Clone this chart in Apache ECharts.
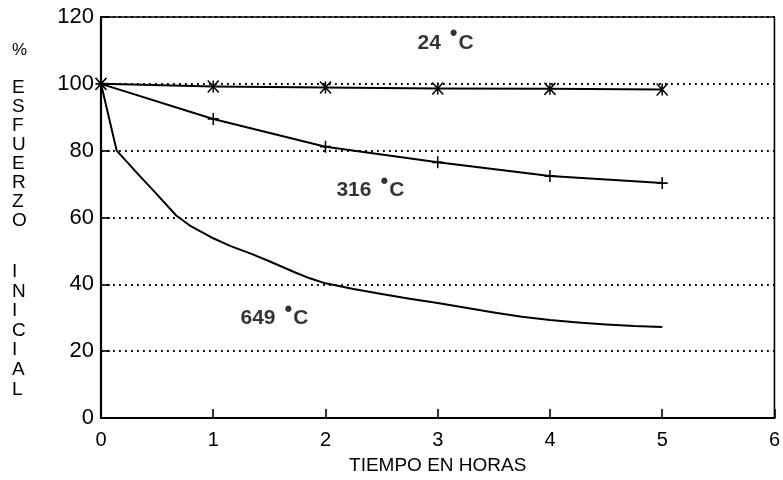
<!DOCTYPE html>
<html>
<head>
<meta charset="utf-8">
<script src="https://cdn.jsdelivr.net/npm/echarts@6/dist/echarts.min.js"></script>
<style>
  html, body { margin: 0; padding: 0; background: #fff; }
  #chart { width: 783px; height: 480px; }
</style>
</head>
<body>
<div id="chart"></div>
<script>
// Retención del esfuerzo inicial (%) frente al tiempo a distintas temperaturas
const xTicks = [0, 1, 2, 3, 4, 5, 6];
const yTicks = [0, 20, 40, 60, 80, 100, 120];

const serie24 = [[0, 100], [1, 99.2], [2, 98.9], [3, 98.6], [4, 98.5], [5, 98.3]];
const serie316 = [[0, 100], [1, 89.5], [2, 81.2], [3, 76.5], [4, 72.4], [5, 70.3]];
const serie649 = [
  [0, 100], [0.14, 80], [0.33, 73.0], [0.48, 67.6], [0.67, 60.6], [0.8, 57.4],
  [0.98, 54.1], [1.15, 51.5], [1.34, 49.1], [1.5, 46.9], [1.72, 43.7], [1.86, 41.8],
  [2, 40.3], [2.25, 38.6], [2.5, 37.1], [2.75, 35.7], [3, 34.4], [3.25, 33.0],
  [3.5, 31.6], [3.75, 30.3], [4, 29.3], [4.25, 28.6], [4.5, 28.0], [4.75, 27.5], [5, 27.2]
];

// Etiquetas de temperatura: [x, y, temperatura]
const etiquetas = [[3.07, 112.3, '24'], [2.40, 68.2, '316'], [1.545, 29.8, '649']];

const FONT = '"Liberation Sans", Arial, sans-serif';
const NEGRO = '#000';

const chart = echarts.init(document.getElementById('chart'), null, { renderer: 'canvas' });

const marcaAspa = 'path://M0,0L10,10M10,0L0,10M5,0L5,10';
const marcaCruz = 'path://M5,0L5,10M1,5L9,5';

const lineaBase = (nombre, datos, simbolo) => ({
  name: nombre,
  type: 'line',
  data: datos,
  smooth: false,
  symbol: simbolo || 'none',
  symbolSize: [11, 12],
  showSymbol: !!simbolo,
  lineStyle: { color: NEGRO, width: 2, join: 'round' },
  itemStyle: { color: 'none', borderColor: NEGRO, borderWidth: 1.6 },
  emphasis: { disabled: true },
  animation: false,
  z: 3
});

chart.setOption({
  animation: false,
  backgroundColor: '#fff',
  grid: {
    left: 101, right: 6, top: 17, bottom: 57,
    show: true, borderColor: NEGRO, borderWidth: 1.6, backgroundColor: 'transparent'
  },
  xAxis: {
    type: 'value',
    min: xTicks[0], max: xTicks[xTicks.length - 1], interval: 1,
    name: 'TIEMPO EN HORAS',
    nameLocation: 'middle',
    nameGap: 38,
    nameTextStyle: { fontFamily: FONT, fontSize: 19, color: NEGRO },
    axisLine: { show: true, lineStyle: { color: NEGRO, width: 2.2 } },
    axisTick: { show: true, inside: true, length: 9, lineStyle: { color: NEGRO, width: 1.6 } },
    axisLabel: { fontFamily: FONT, fontSize: 20, color: NEGRO, margin: 12 },
    splitLine: { show: false }
  },
  yAxis: {
    type: 'value',
    min: yTicks[0], max: yTicks[yTicks.length - 1], interval: 20,
    axisLine: { show: true, lineStyle: { color: NEGRO, width: 2.2 } },
    axisTick: { show: true, inside: true, length: 9, lineStyle: { color: NEGRO, width: 1.6 } },
    axisLabel: { fontFamily: FONT, fontSize: 22, color: NEGRO, margin: 7 },
    splitLine: { show: true, lineStyle: { color: NEGRO, width: 1.8, type: [1.8, 4.2] } }
  },
  series: [
    lineaBase('24 °C', serie24, marcaAspa),
    lineaBase('316 °C', serie316, marcaCruz),
    lineaBase('649 °C', serie649, null),
    {
      name: 'etiquetas',
      type: 'scatter',
      data: etiquetas.map(e => ({ value: [e[0], e[1]], temp: e[2] })),
      symbolSize: 0,
      silent: true,
      animation: false,
      label: {
        show: true,
        position: 'inside',
        formatter: p => '{n|' + p.data.temp + '}{s|}{d|•}{t|}{n|C}',
        rich: {
          n: { fontFamily: FONT, fontSize: 21, fontWeight: 'bold', color: NEGRO, lineHeight: 22 },
          s: { width: 9, lineHeight: 22 },
          t: { width: 1, lineHeight: 22 },
          d: { fontFamily: FONT, fontSize: 22, fontWeight: 'bold', color: NEGRO, lineHeight: 22, padding: [0, 0, 17, 0] }
        }
      },
      z: 4
    }
  ],
  graphic: [
    {
      type: 'text', left: 12, top: 42,
      style: { text: '%', font: '17px ' + FONT, fill: NEGRO }
    },
    {
      type: 'text', left: 12, top: 78,
      style: { text: 'E\nS\nF\nU\nE\nR\nZ\nO', font: '19px ' + FONT, fill: NEGRO, lineHeight: 19, align: 'center', width: 14 }
    },
    {
      type: 'text', left: 12, top: 262,
      style: { text: 'I\nN\nI\nC\nI\nA\nL', font: '19px ' + FONT, fill: NEGRO, lineHeight: 19.6, align: 'center', width: 14 }
    }
  ]
});
</script>
</body>
</html>
